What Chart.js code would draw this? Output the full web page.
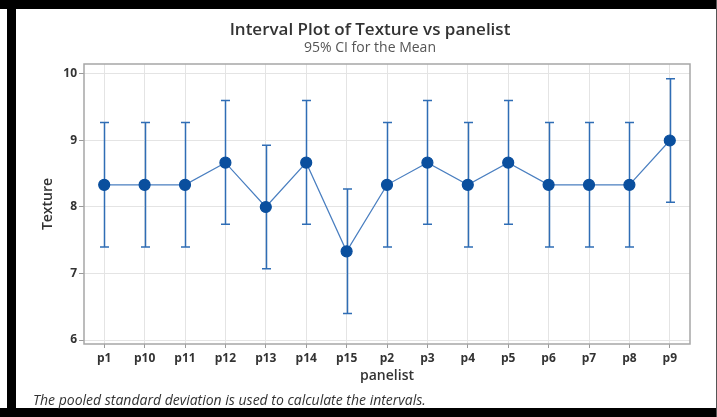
<!DOCTYPE html>
<html lang="en">
<head>
  <meta charset="UTF-8">
  <title>Interval Plot of Texture vs panelist</title>
  <script src="https://cdn.jsdelivr.net/npm/chart.js"></script>
  <style>
    body { margin: 0; background: #fff; }
    #page { position: relative; width: 717px; height: 417px; overflow: hidden; background: #fff; }
    .bar { position: absolute; background: #000; }
    #wrap { position: absolute; left: 16px; top: 9px; width: 700px; height: 399px; }
    #note {
      position: absolute; left: 33px; top: 390px; line-height: 19px;
      font: italic 14px "Open Sans", sans-serif; color: #333;
    }
  </style>
</head>
<body>
  <div id="page">
    <div class="bar" style="left:0;top:0;width:717px;height:9px"></div>
    <div class="bar" style="left:7px;top:0;width:9px;height:417px"></div>
    <div class="bar" style="left:0;top:408px;width:717px;height:9px"></div>
    <div class="bar" style="left:716px;top:0;width:1px;height:417px;background:#555"></div>
    <div id="wrap"><canvas id="intervalChart" width="700" height="399"></canvas></div>
    <div id="note">The pooled standard deviation is used to calculate the intervals.</div>
  </div>

  <script>
    const panelists = ['p1', 'p10', 'p11', 'p12', 'p13', 'p14', 'p15', 'p2', 'p3', 'p4', 'p5', 'p6', 'p7', 'p8', 'p9'];
    const means = [8.333, 8.333, 8.333, 8.667, 8.0, 8.667, 7.333, 8.333, 8.667, 8.333, 8.667, 8.333, 8.333, 8.333, 9.0];
    const lower = [7.40, 7.40, 7.40, 7.74, 7.07, 7.74, 6.40, 7.40, 7.74, 7.40, 7.74, 7.40, 7.40, 7.40, 8.07];
    const upper = [9.27, 9.27, 9.27, 9.60, 8.93, 9.60, 8.27, 9.27, 9.60, 9.27, 9.60, 9.27, 9.27, 9.27, 9.93];
    const yTicks = [6, 7, 8, 9, 10];

    const lineBlue = '#4a7fc0';
    const barBlue = '#2f6db5';
    const dotBlue = '#0a4f9e';

    // whiskers with caps, drawn under the mean markers
    const intervalBars = {
      id: 'intervalBars',
      beforeDatasetsDraw(chart) {
        const { ctx, scales: { x, y } } = chart;
        ctx.save();
        ctx.strokeStyle = barBlue;
        ctx.lineWidth = 1.5;
        panelists.forEach((p, i) => {
          const px = Math.round(x.getPixelForValue(i)) + 0.5;
          const top = y.getPixelForValue(upper[i]);
          const bot = y.getPixelForValue(lower[i]);
          ctx.beginPath();
          ctx.moveTo(px, top); ctx.lineTo(px, bot);
          ctx.moveTo(px - 4.5, top); ctx.lineTo(px + 4.5, top);
          ctx.moveTo(px - 4.5, bot); ctx.lineTo(px + 4.5, bot);
          ctx.stroke();
        });
        ctx.restore();
      }
    };

    // grey frame round the data region
    const plotFrame = {
      id: 'plotFrame',
      afterDraw(chart) {
        const { ctx, chartArea: a } = chart;
        ctx.save();
        ctx.strokeStyle = '#a6a6a6';
        ctx.lineWidth = 1.5;
        ctx.strokeRect(a.left, a.top, a.right - a.left, a.bottom - a.top);
        ctx.restore();
      }
    };

    const tickFont = { family: '"Open Sans", sans-serif', size: 12, weight: '700' };

    new Chart(document.getElementById('intervalChart'), {
      type: 'line',
      data: {
        labels: panelists,
        datasets: [{
          data: means,
          borderColor: lineBlue,
          borderWidth: 1.2,
          pointRadius: 5.5,
          pointBackgroundColor: dotBlue,
          pointBorderColor: dotBlue,
          tension: 0
        }]
      },
      options: {
        responsive: false,
        animation: false,
        // left padding pushes the centred titles right, the y scale is narrowed to match
        layout: { padding: { left: 34, right: 26, bottom: 24, top: 0 } },
        plugins: {
          legend: { display: false },
          tooltip: { enabled: false },
          title: {
            display: true,
            text: 'Interval Plot of Texture vs panelist',
            color: '#333',
            font: { family: '"Open Sans", sans-serif', size: 17, weight: '600', lineHeight: 1 },
            padding: { top: 12.5, bottom: 0 }
          },
          subtitle: {
            display: true,
            text: '95% CI for the Mean',
            color: '#555',
            font: { family: '"Open Sans", sans-serif', size: 14, weight: '400', lineHeight: 1 },
            padding: { top: 2.5, bottom: 9 }
          }
        },
        scales: {
          x: {
            offset: true,
            afterFit(scale) { scale.height = 40; },
            grid: { offset: false, color: '#e4e4e4', tickColor: '#9a9a9a', tickLength: 4, drawTicks: true },
            border: { display: false },
            ticks: { color: '#333', font: tickFont, padding: 3, maxRotation: 0 },
            title: {
              display: true, text: 'panelist', color: '#333',
              font: { family: '"Open Sans", sans-serif', size: 14, weight: '600', lineHeight: 1 },
              padding: { top: 0, bottom: 1 }
            }
          },
          y: {
            min: 5.94,
            max: 10.15,
            afterFit(scale) { scale.width = 34; },
            afterBuildTicks(scale) { scale.ticks = yTicks.map(v => ({ value: v })); },
            grid: { color: '#e4e4e4', tickColor: '#9a9a9a', tickLength: 5 },
            border: { display: false },
            ticks: { color: '#333', font: tickFont, padding: 2 },
            title: {
              display: true, text: 'Texture', color: '#333',
              font: { family: '"Open Sans", sans-serif', size: 14, weight: '600', lineHeight: 1 },
              padding: { top: -9, bottom: 0 }
            }
          }
        }
      },
      plugins: [intervalBars, plotFrame]
    });
  </script>
</body>
</html>
